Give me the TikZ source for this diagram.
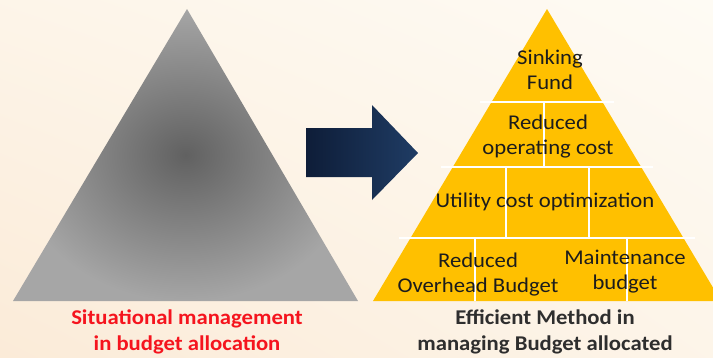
\documentclass[tikz,border=0pt]{standalone}
\usepackage{fontspec}
\setmainfont[FakeStretch=1.08]{Carlito}
\usepackage{xcolor}
\usetikzlibrary{positioning,shadings}

\definecolor{bgpeach}{HTML}{FBEBD8}
\definecolor{bgcream}{HTML}{FEFBF4}
\definecolor{pyrgold}{HTML}{FFC000}
\definecolor{navyL}{HTML}{0E1D38}
\definecolor{navyR}{HTML}{1F3C64}
\definecolor{txtdark}{HTML}{1C1C1C}
\definecolor{capgray}{HTML}{2E2E2E}
\definecolor{capred}{HTML}{F5141E}

\begin{document}
\begin{tikzpicture}[x=1pt, y=-1pt,
      layer/.style={align=center, text=txtdark, font=\fontsize{21}{25}\selectfont, inner sep=0pt},
      caption/.style={align=center, font=\bfseries\fontsize{21}{26}\selectfont, inner sep=0pt},
      brick/.style={draw=white, line width=1.2pt}
    ]
    % background
    \useasboundingbox (0,0) rectangle (713,357);
    \shade[lower left=bgpeach, upper right=bgcream, lower right=bgcream!60!bgpeach, upper left=bgcream!60!bgpeach]
      (0,0) rectangle (713,357);

    % left triangle
    \shade[inner color=black!62, outer color=black!35] (187,9) -- (358,301) -- (13,301) -- cycle;

    % arrow
    \shade[left color=navyL, right color=navyR]
      (306,128) -- (372,128) -- (372,105) -- (418,153) -- (372,200) -- (372,177) -- (306,177) -- cycle;

    % right pyramid
    \begin{scope}
      \clip (0,0) rectangle (713,357);
      \fill[pyrgold] (547,9) -- (721,301) -- (373,301) -- cycle;
      \draw[brick] (480,102) -- (614,102);
      \draw[brick] (441,167) -- (653,167);
      \draw[brick] (399,238) -- (695,238);
      \draw[brick] (544,102) -- (544,167);
      \draw[brick] (506,167) -- (506,238);
      \draw[brick] (589,167) -- (589,238);
      \draw[brick] (475,238) -- (475,301);
      \draw[brick] (627,238) -- (627,301);
    \end{scope}

    % layer texts
    \node[layer] (sinking) at (550,70) {Sinking\\Fund};
    \node[layer] (operating) at (548,137) {Reduced\\operating cost};
    \node[layer] (utility) at (545,202) {Utility cost optimization};
    \node[layer] (overhead) at (478,275) {Reduced\\Overhead Budget};
    \node[layer] (maint) at (625,272) {Maintenance\\budget};

    % captions
    \node[caption, text=capred] (leftcap) at (187,332) {Situational management\\in budget allocation};
    \node[caption, text=capgray] (rightcap) at (545,332) {Efficient Method in\\managing Budget allocated};
  \end{tikzpicture}
\end{document}
